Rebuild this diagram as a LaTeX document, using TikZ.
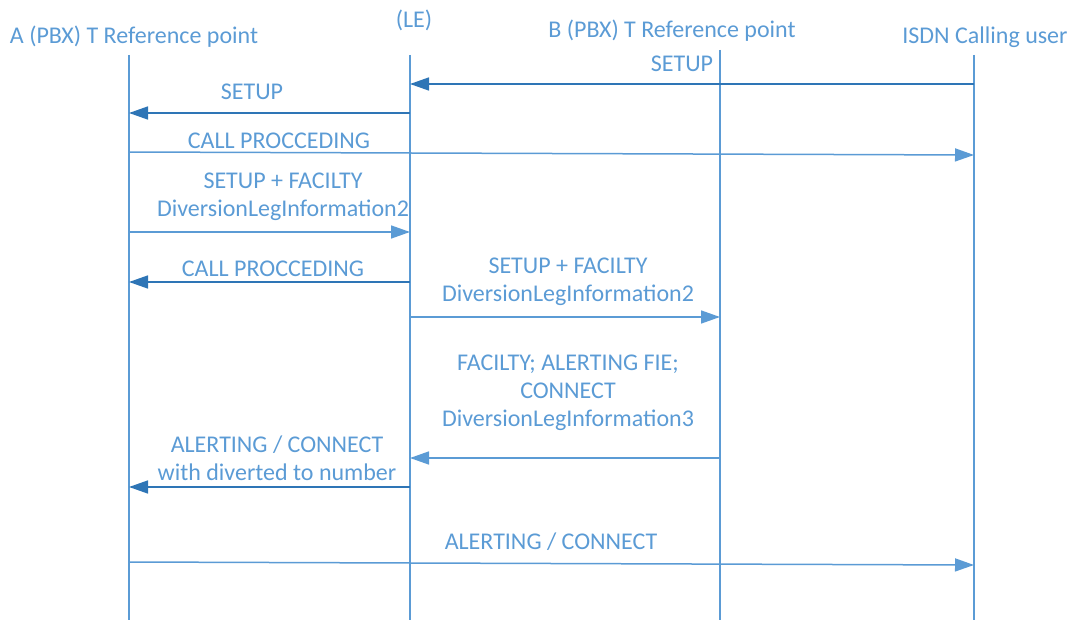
\documentclass[tikz,border=0pt]{standalone}
\usepackage{fontspec}
\setmainfont{Carlito}
\usetikzlibrary{arrows.meta}
\definecolor{lightblue}{HTML}{5B9BD5}
\definecolor{darkblue}{HTML}{2E75B6}
\begin{document}
\begin{tikzpicture}[
    x=1pt, y=-1pt,
    life/.style={
        draw=lightblue,
        line width=1.5pt,
        },
    msg/.style={
        draw=lightblue,
        line width=1.5pt,
        -{Triangle[length=19pt,width=13pt]},
        },
    msgdark/.style={
        msg,
        draw=darkblue,
        },
    head/.style={
        text=lightblue,
        font=\fontsize{24}{28}\selectfont,
        inner sep=0pt,
        },
    lbl/.style={
        text=lightblue,
        font=\fontsize{24}{28}\selectfont,
        align=center,
        inner sep=0pt,
        },
    ]

    \useasboundingbox (0,0) rectangle (1071,620);

    % entities
    \node [head] (hA) at (134,37) {A (PBX) T Reference point};
    \node [head] (hLE) at (414,20) {(LE)};
    \node [head] (hB) at (672,31) {B (PBX) T Reference point};
    \node [head] (hU) at (985,37) {ISDN Calling user};

    \coordinate (bot) at (0,620);
    \foreach \n/\x/\t in {A/129/55, LE/410/55, B/720/50, U/974/55}{
        \coordinate (\n) at (\x,\t);
        \draw [life] (\n) -- (\n |- bot);
    }

    % messages
    \draw [msgdark] (U |- 0,84) -- (LE |- 0,84);
    \node [lbl] (m1) at (682,64) {SETUP};

    \draw [msgdark] (LE |- 0,113) -- (A |- 0,113);
    \node [lbl] (m2) at (252,92) {SETUP};

    \draw [msg] (A |- 0,152) -- (U |- 0,155);
    \node [lbl] (m3) at (279,141) {CALL PROCCEDING};

    \draw [msg] (A |- 0,232) -- (LE |- 0,232);
    \node [lbl] (m4) at (283,197) {SETUP + FACILTY\\DiversionLegInformation2};

    \draw [msgdark] (LE |- 0,282) -- (A |- 0,282);
    \node [lbl] (m5) at (273,269) {CALL PROCCEDING};

    \draw [msg] (LE |- 0,317) -- (B |- 0,317);
    \node [lbl] (m6) at (568,282) {SETUP + FACILTY\\DiversionLegInformation2};

    \draw [msg] (B |- 0,458) -- (LE |- 0,458);
    \node [lbl] (m7) at (568,393) {FACILTY; ALERTING FIE;\\CONNECT\\DiversionLegInformation3};

    \draw [msgdark] (LE |- 0,487) -- (A |- 0,487);
    \node [lbl] (m8) at (277,458) {ALERTING / CONNECT\\with diverted to number};

    \draw [msg] (A |- 0,562) -- (U |- 0,565);
    \node [lbl] (m9) at (551,542) {ALERTING / CONNECT};

\end{tikzpicture}
\end{document}
